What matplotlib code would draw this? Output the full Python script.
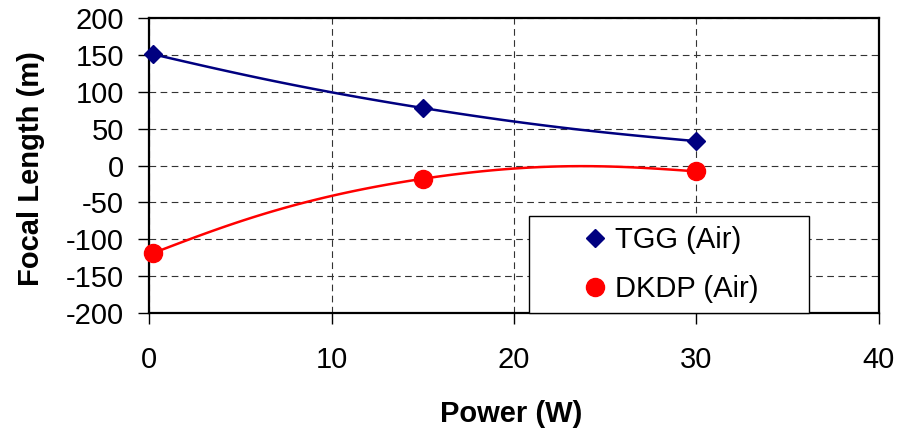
import numpy as np
import matplotlib
matplotlib.use("Agg")
import matplotlib.pyplot as plt

plt.rcParams['font.family'] = ['Liberation Sans', 'DejaVu Sans']
plt.rcParams['axes.unicode_minus'] = False

# Measured focal length versus laser power
power_tgg = [0.2, 15, 30]
focal_tgg = [151, 78, 33]
power_dkdp = [0.2, 15, 30]
focal_dkdp = [-119, -18, -8]

x_ticks = [0, 10, 20, 30, 40]
y_ticks = [-200, -150, -100, -50, 0, 50, 100, 150, 200]

NAVY = '#000080'
RED = '#FF0000'


def smooth_curve(ax, xs, ys, tension=0.45, end_frac=0.5, n=60):
    """Bezier smoothing through the points, computed in display space."""
    pts = ax.transData.transform(np.column_stack([xs, ys]))
    m = len(pts)
    ctrl_out = [None] * m
    ctrl_in = [None] * m
    for i in range(1, m - 1):
        t = pts[i + 1] - pts[i - 1]
        t = t / np.hypot(*t)
        ctrl_out[i] = pts[i] + t * np.hypot(*(pts[i + 1] - pts[i])) * tension
        ctrl_in[i] = pts[i] - t * np.hypot(*(pts[i] - pts[i - 1])) * tension
    ctrl_out[0] = pts[0] + end_frac * (ctrl_in[1] - pts[0])
    ctrl_in[m - 1] = pts[m - 1] + end_frac * (ctrl_out[m - 2] - pts[m - 1])
    u = np.linspace(0, 1, n)[:, None]
    segs = []
    for i in range(m - 1):
        p0, c1, c2, p1 = pts[i], ctrl_out[i], ctrl_in[i + 1], pts[i + 1]
        b = ((1 - u) ** 3) * p0 + 3 * ((1 - u) ** 2) * u * c1 \
            + 3 * (1 - u) * u ** 2 * c2 + u ** 3 * p1
        segs.append(b if i == 0 else b[1:])
    curve = np.vstack(segs)
    return ax.transData.inverted().transform(curve).T


fig = plt.figure(figsize=(9.12, 4.3), dpi=100)
ax = fig.add_axes([0.1634, 0.2721, 0.8004, 0.6860])
ax.set_xlim(0, 40)
ax.set_ylim(-200, 200)
ax.set_xticks(x_ticks)
ax.set_yticks(y_ticks)

ax.grid(True, linestyle=(0, (6, 4)), color='#333333', linewidth=0.8)
ax.set_axisbelow(True)

for s in ax.spines.values():
    s.set_linewidth(1.6)
    s.set_color('black')

ax.tick_params(direction='out', length=8, width=1, labelsize=21,
               colors='black')
ax.tick_params(axis='y', pad=10)
ax.tick_params(axis='x', pad=16)

cx, cy = smooth_curve(ax, power_tgg, focal_tgg)
ax.plot(cx, cy, color=NAVY, linewidth=1.8, zorder=3)
cx, cy = smooth_curve(ax, power_dkdp, focal_dkdp)
ax.plot(cx, cy, color=RED, linewidth=1.8, zorder=3)

ax.plot(power_tgg, focal_tgg, linestyle='none', marker='D', markersize=9,
        color=NAVY, label='TGG (Air)', zorder=4, clip_on=False)
ax.plot(power_dkdp, focal_dkdp, linestyle='none', marker='o', markersize=13,
        color=RED, label='DKDP (Air)', zorder=4, clip_on=False)

ax.set_xlabel('Power (W)', fontsize=21, fontweight='bold')
ax.set_ylabel('Focal Length (m)', fontsize=21, fontweight='bold')
ax.xaxis.set_label_coords(0.496, -0.295)
ax.yaxis.set_label_coords(-0.142, 0.49)

leg = ax.legend(loc='lower left', bbox_to_anchor=(0.5205, 0.0, 0.3836, 0.332),
                mode='expand', borderaxespad=0, fontsize=21, frameon=True,
                fancybox=False, framealpha=1, edgecolor='black',
                borderpad=0.35, labelspacing=0.72, handlelength=3.85,
                handletextpad=-1.25, numpoints=1)
leg.get_frame().set_linewidth(1.0)
leg.set_zorder(5)

fig.savefig('out.png', dpi=100)
